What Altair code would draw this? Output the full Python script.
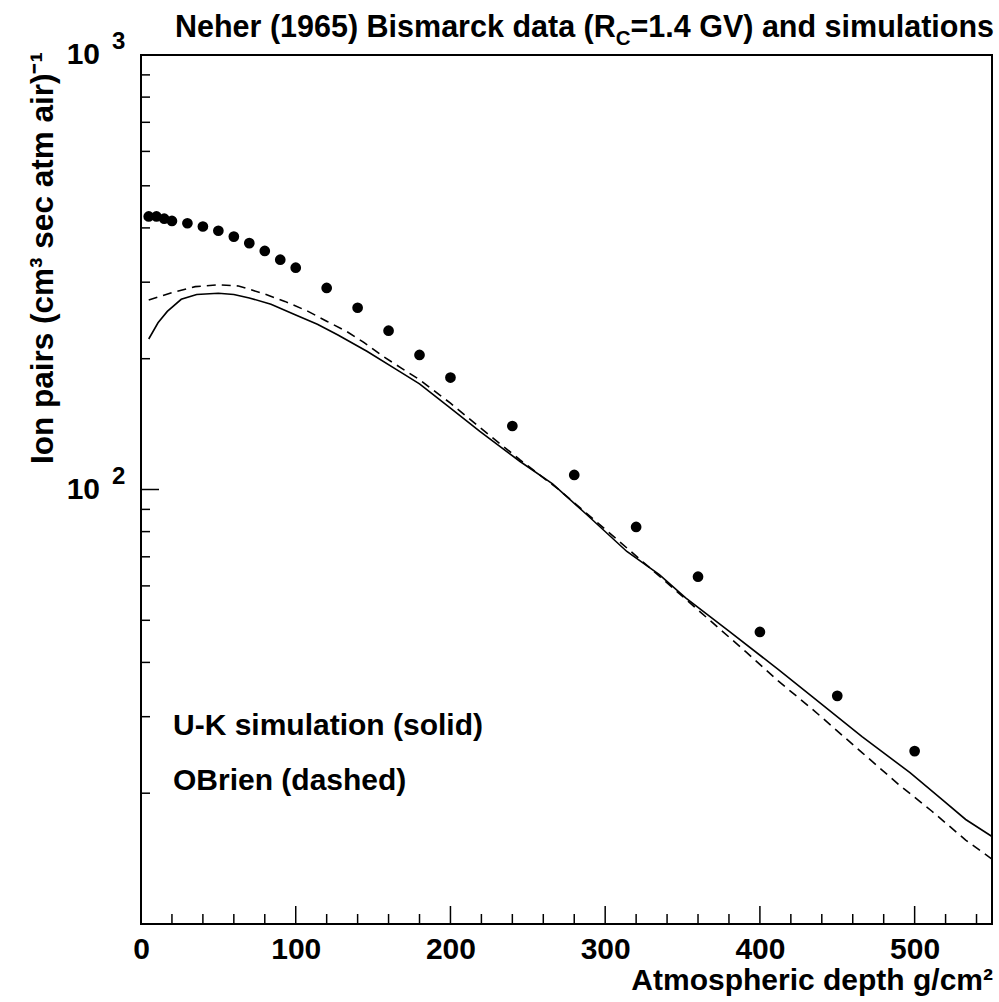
import altair as alt
import pandas as pd

FONT = "Liberation Sans"

# ---- data ----
depth_data = [5, 10, 15, 20, 30, 40, 50, 60, 70, 80, 90, 100, 120, 140, 160, 180,
              200, 240, 280, 320, 360, 400, 450, 500]
ion_data = [425, 425, 420, 415, 410, 403, 394, 382, 369, 354, 338, 324, 291, 262,
            232, 204, 181, 140, 108, 82, 63, 47, 33.5, 25]

uk_depth = [5, 11, 17, 26, 36, 50, 60, 70, 84, 100, 114, 127, 146, 167, 180, 200,
            219, 245, 266, 288, 314, 335, 352, 380, 412, 434, 466, 497, 518, 533, 550]
uk_ion = [222, 242, 257, 274, 281, 283, 281, 276, 267, 252, 240, 227, 208, 187, 175,
          154, 136, 116, 103, 87.6, 72, 63.7, 56.3, 47.2, 38.5, 33.3, 27.0, 22.3,
          19.3, 17.4, 15.9]

obrien_depth = [5, 20, 35, 50, 63, 79, 93, 108, 120, 133, 144, 156, 168, 180, 200,
                220, 245, 270, 300, 330, 360, 391, 412, 434, 466, 490, 511, 533, 550]
obrien_ion = [273, 284, 293, 296, 294, 282.5, 271, 257, 244, 231, 218, 203, 190.5,
              179, 158, 138, 117, 100, 81, 65.5, 52.8, 42.3, 36.2, 31.2, 24.8, 20.9,
              18.2, 15.6, 14.1]

x_major = [0, 100, 200, 300, 400, 500]
x_minor = [20, 40, 60, 80, 120, 140, 160, 180, 220, 240, 260, 280, 320, 340, 360,
           380, 420, 440, 460, 480, 520, 540]
y_major = [100, 1000]
y_minor = [20, 30, 40, 50, 60, 70, 80, 90, 200, 300, 400, 500, 600, 700, 800, 900]
y_label_base = ["10", "10"]
y_label_exp = ["2", "3"]

W, H = 851, 869

xscale = alt.Scale(domain=[0, 550], nice=False, zero=False)
yscale = alt.Scale(type="log", domain=[10, 1000], nice=False)

xaxis = alt.Axis(values=x_major, labelFont=FONT, labelFontWeight="bold",
                 labelFontSize=30, labelColor="black", labelPadding=10,
                 ticks=False, domain=False, grid=False, title=None, format="d",
                 labelFlush=False)
yaxis = alt.Axis(labels=False, ticks=False, domain=False, grid=False, title=None)

X = lambda f: alt.X(f, scale=xscale, axis=xaxis)
Y = lambda f: alt.Y(f, scale=yscale, axis=yaxis)

pts = alt.Chart(pd.DataFrame({"x": depth_data, "y": ion_data})).mark_circle(
    size=115, color="black", opacity=1).encode(x=X("x:Q"), y=Y("y:Q"))

uk = alt.Chart(pd.DataFrame({"x": uk_depth, "y": uk_ion})).mark_line(
    color="black", strokeWidth=1.6, clip=True).encode(x=X("x:Q"), y=Y("y:Q"))

ob = alt.Chart(pd.DataFrame({"x": obrien_depth, "y": obrien_ion})).mark_line(
    color="black", strokeWidth=1.6, strokeDash=[9, 6], clip=True).encode(
    x=X("x:Q"), y=Y("y:Q"))

# inward ticks
xt_major = alt.Chart(pd.DataFrame({"x": x_major})).mark_rule(
    color="black", strokeWidth=1.5).encode(x=X("x:Q"), y=alt.value(H), y2=alt.value(H - 18))
xt_minor = alt.Chart(pd.DataFrame({"x": x_minor})).mark_rule(
    color="black", strokeWidth=1.5).encode(x=X("x:Q"), y=alt.value(H), y2=alt.value(H - 10))
yt_major = alt.Chart(pd.DataFrame({"y": y_major})).mark_rule(
    color="black", strokeWidth=1.5).encode(y=Y("y:Q"), x=alt.value(0), x2=alt.value(18))
yt_minor = alt.Chart(pd.DataFrame({"y": y_minor})).mark_rule(
    color="black", strokeWidth=1.5).encode(y=Y("y:Q"), x=alt.value(0), x2=alt.value(9))

ylab_df = pd.DataFrame({"y": y_major, "b": y_label_base, "e": y_label_exp})
ylab_b = alt.Chart(ylab_df).mark_text(
    font=FONT, fontWeight="bold", fontSize=30, align="right", baseline="middle",
    color="black").encode(y=Y("y:Q"), x=alt.value(-41), text="b:N")
ylab_e = alt.Chart(ylab_df).mark_text(
    font=FONT, fontWeight="bold", fontSize=24, align="left", baseline="alphabetic",
    dy=-6, color="black").encode(y=Y("y:Q"), x=alt.value(-29), text="e:N")


def txt(s, x, y, size=30, align="left", angle=0):
    kw = dict(font=FONT, fontWeight="bold", fontSize=size, align=align,
              baseline="alphabetic", color="black")
    if angle:
        kw["angle"] = angle
    return alt.Chart(pd.DataFrame({"t": [s]})).mark_text(**kw).encode(
        text="t:N", x=alt.value(x), y=alt.value(y))


title1 = txt("Neher (1965) Bismarck data (R", 34, -18, 30.5)
title2 = txt("C", 474.7, -10, 20.5)
title3 = txt("=1.4 GV) and simulations", 489.5, -18, 30.5)
xtitle = txt("Atmospheric depth g/cm\u00b2", 852, 935, 30, align="right")
ytitle = txt("Ion pairs (cm\u00b3 sec atm air)\u207b\u00b9", -88, 203, 31.5,
             align="center", angle=270)
leg1 = txt("U-K simulation (solid)", 32, 680, 30)
leg2 = txt("OBrien (dashed)", 32, 735, 30)

chart = alt.layer(
    uk, ob, pts, xt_major, xt_minor, yt_major, yt_minor, ylab_b, ylab_e,
    title1, title2, title3, xtitle, ytitle, leg1, leg2
).properties(
    width=W, height=H,
    padding={"left": 141, "top": 55, "right": 7, "bottom": 78},
    autosize=alt.AutoSizeParams(type="none"),
    background="white",
).configure_view(stroke="black", strokeWidth=2)

chart.save("out.html", embed_options={"renderer": "svg", "actions": False})
